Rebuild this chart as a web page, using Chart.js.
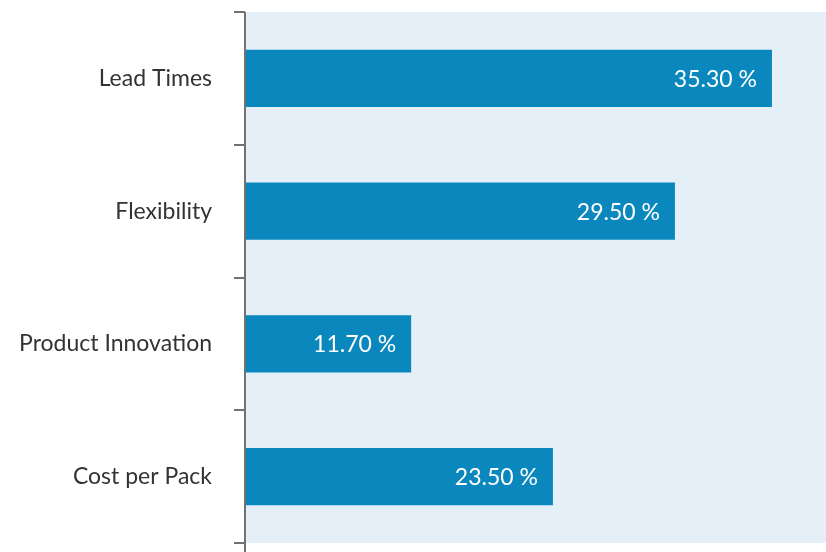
<!DOCTYPE html>
<html>
<head>
<meta charset="utf-8">
<script src="https://cdn.jsdelivr.net/npm/chart.js@4"></script>
<style>
    html, body { margin: 0; padding: 0; background: #ffffff; }
    #wrap { width: 826px; height: 552px; }
</style>
</head>
<body>
<div id="wrap"><canvas id="chart" width="826" height="552"></canvas></div>
<script>
// categories, top to bottom
const categories = ['Lead Times', 'Flexibility', 'Product Innovation', 'Cost per Pack'];
// printed values on the bars
const valueLabels = ['35.30 %', '29.50 %', '11.70 %', '23.50 %'];
// bar lengths as drawn in the picture (share of the plot width, 0-100)
const barLengths = [90.7, 74.0, 28.6, 53.0];

const AXIS_X = 245;
const AXIS_COLOR = '#707173';
const BAR_COLOR = '#0a88be';
const PLOT_BG = '#e4eff7';
const FONT = 'Lato, "Open Sans", sans-serif';

// light blue plot background and axis line running to the bottom edge
const backdrop = {
    id: 'backdrop',
    beforeDraw(chart) {
        const { ctx, chartArea } = chart;
        ctx.save();
        ctx.fillStyle = PLOT_BG;
        ctx.fillRect(chartArea.left, chartArea.top, chart.width - chartArea.left, chartArea.bottom - chartArea.top);
        ctx.restore();
    },
    afterDraw(chart) {
        const { ctx, chartArea } = chart;
        ctx.save();
        ctx.strokeStyle = AXIS_COLOR;
        ctx.lineWidth = 2;
        ctx.beginPath();
        ctx.moveTo(chartArea.left, chartArea.top);
        ctx.lineTo(chartArea.left, chart.height);
        ctx.stroke();
        ctx.restore();
    }
};

// white value text inside the end of each bar
const barText = {
    id: 'barText',
    afterDatasetsDraw(chart) {
        const { ctx } = chart;
        const meta = chart.getDatasetMeta(0);
        ctx.save();
        ctx.fillStyle = '#ffffff';
        ctx.font = '23px ' + FONT;
        ctx.textAlign = 'right';
        ctx.textBaseline = 'middle';
        meta.data.forEach((bar, i) => {
            ctx.fillText(valueLabels[i], bar.x - 15, bar.y + 1);
        });
        ctx.restore();
    }
};

new Chart(document.getElementById('chart'), {
    type: 'bar',
    data: {
        labels: categories,
        datasets: [{
            data: barLengths,
            backgroundColor: BAR_COLOR,
            borderWidth: 0,
            categoryPercentage: 1,
            barPercentage: 0.43
        }]
    },
    options: {
        indexAxis: 'y',
        responsive: false,
        animation: false,
        layout: { padding: { top: 12, bottom: 9, left: 0, right: 0 } },
        plugins: {
            legend: { display: false },
            tooltip: { enabled: false }
        },
        scales: {
            x: {
                display: false,
                min: 0,
                max: 100
            },
            y: {
                afterFit(scale) {
                    scale.width = AXIS_X;
                    scale.paddingTop = 0;
                    scale.paddingBottom = 0;
                },
                border: { display: false },
                grid: {
                    drawOnChartArea: false,
                    drawTicks: true,
                    tickLength: 11,
                    color: AXIS_COLOR,
                    lineWidth: 2,
                    offset: true
                },
                ticks: {
                    color: '#333333',
                    padding: 22,
                    font: { family: FONT, size: 23 }
                }
            }
        }
    },
    plugins: [backdrop, barText]
});
</script>
</body>
</html>
